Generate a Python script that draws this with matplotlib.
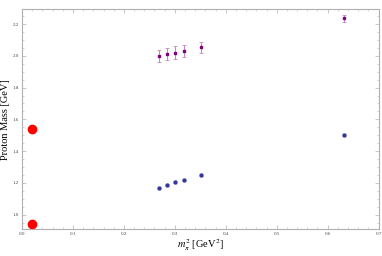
import matplotlib.pyplot as plt
from matplotlib.ticker import MultipleLocator

# physical point
phys_x = [0.0195, 0.0195]
phys_y = [0.940, 1.539]

# ground state (lattice)
mpi2 = [0.268, 0.284, 0.301, 0.318, 0.351, 0.633]
m_ground = [1.170, 1.185, 1.204, 1.221, 1.250, 1.499]

# excited state (lattice) with errors
m_excited = [1.998, 2.011, 2.021, 2.030, 2.053, 2.238]
err_excited = [0.038, 0.037, 0.039, 0.036, 0.036, 0.022]

plt.rcParams['font.family'] = ['Liberation Serif', 'DejaVu Serif']
plt.rcParams['mathtext.fontset'] = 'stix'

fig = plt.figure(figsize=(3.82, 2.56), dpi=100)
ax = fig.add_axes([0.0576, 0.1055, 0.9334, 0.8582])

ax.errorbar(mpi2, m_excited, yerr=err_excited, fmt='s', color='#800080',
            ms=1.7, ecolor='#c58ac5', elinewidth=0.8, capsize=1.2, capthick=0.6)
ax.plot(mpi2, m_ground, 'o', color='#35359a', ms=3.0, mec='#7777bb', mew=0.3)
ax.plot(phys_x, phys_y, 'o', color='#ff0000', ms=7.0, mew=0)

ax.set_xlim(0, 0.7)
ax.set_ylim(0.91, 2.293)
ax.xaxis.set_major_locator(MultipleLocator(0.1))
ax.xaxis.set_minor_locator(MultipleLocator(0.02))
ax.yaxis.set_major_locator(MultipleLocator(0.2))
ax.yaxis.set_minor_locator(MultipleLocator(0.05))
ax.xaxis.set_major_formatter(plt.FuncFormatter(lambda v, p: f'{v:.1f}'))
ax.yaxis.set_major_formatter(plt.FuncFormatter(lambda v, p: f'{v:.1f}'))

frame = '#b0b0b0'
for s in ax.spines.values():
    s.set_color(frame)
    s.set_linewidth(0.8)
ax.tick_params(which='both', direction='in', top=True, right=True,
               color=frame, labelsize=3.6, labelcolor='#444444', pad=2)
ax.tick_params(which='major', length=3, width=0.5)
ax.tick_params(which='minor', length=1.6, width=0.4)

ax.set_ylabel('Proton Mass [GeV]', fontsize=7.5, labelpad=2)
ax.set_xlabel(r'$m_\pi^2$ [GeV$^2$]', fontsize=7.5, labelpad=1)

fig.savefig('out.png', dpi=100)
